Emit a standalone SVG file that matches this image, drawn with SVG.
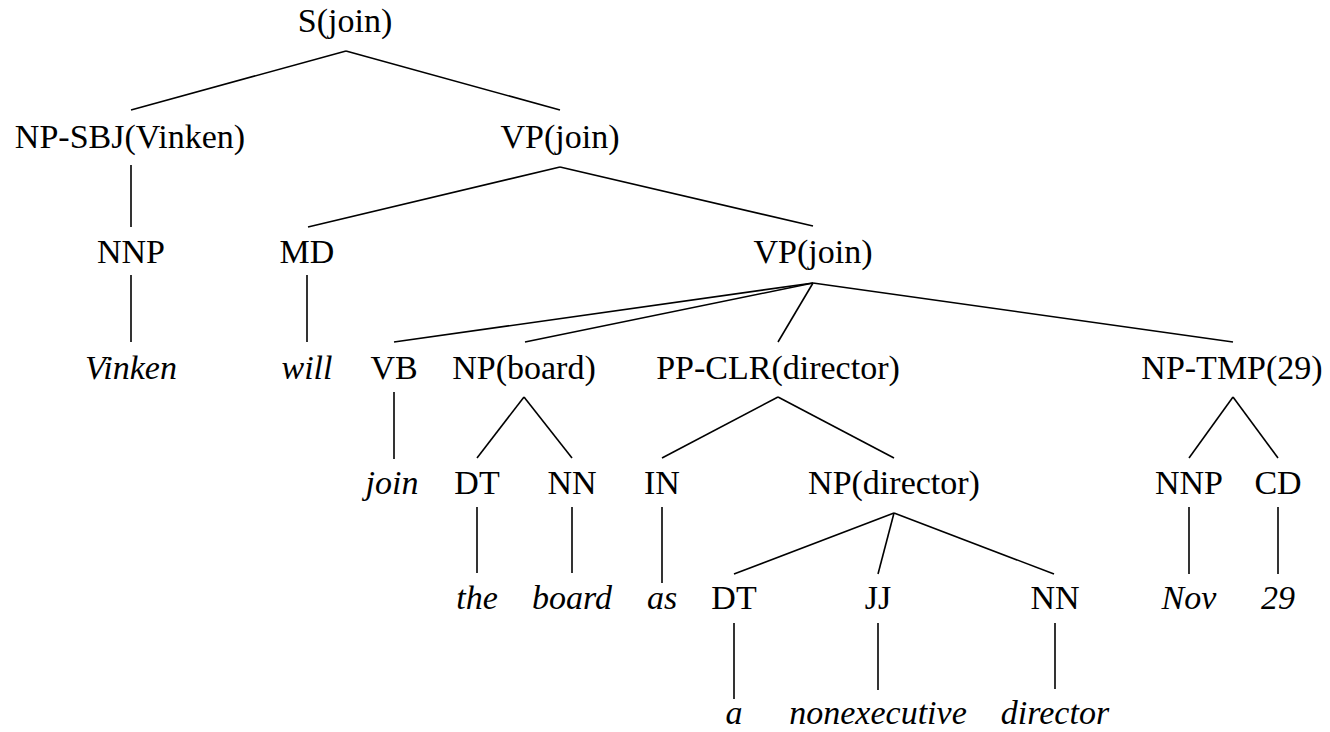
<svg xmlns="http://www.w3.org/2000/svg" width="1330" height="732" viewBox="0 0 1330 732">
<style>
  text { font-family: "Liberation Serif", "Times New Roman", serif; font-size: 34px; fill: #000; text-anchor: middle; }
  .w { font-style: italic; }
  .edges line { stroke: #000; stroke-width: 1.6; fill: none; }
</style>
<rect width="1330" height="732" fill="#fff"/>
<g class="edges" id="connectors">
  <line x1="346" y1="51" x2="131" y2="110"/>
  <line x1="346" y1="51" x2="560" y2="110"/>
  <line x1="131" y1="165" x2="131" y2="227"/>
  <line x1="560" y1="167" x2="308" y2="227"/>
  <line x1="560" y1="167" x2="813" y2="226"/>
  <line x1="131" y1="275" x2="131" y2="342"/>
  <line x1="307" y1="275" x2="307" y2="342"/>
  <line x1="813" y1="283" x2="394" y2="342"/>
  <line x1="813" y1="283" x2="525" y2="342"/>
  <line x1="813" y1="283" x2="778" y2="342"/>
  <line x1="813" y1="283" x2="1233" y2="342"/>
  <line x1="394" y1="392" x2="394" y2="459"/>
  <line x1="524" y1="397" x2="477" y2="458"/>
  <line x1="524" y1="397" x2="572" y2="458"/>
  <line x1="778" y1="397" x2="662" y2="458"/>
  <line x1="778" y1="397" x2="894" y2="458"/>
  <line x1="1233" y1="397" x2="1189" y2="458"/>
  <line x1="1233" y1="397" x2="1278" y2="458"/>
  <line x1="477" y1="507" x2="477" y2="573"/>
  <line x1="572" y1="507" x2="572" y2="573"/>
  <line x1="662" y1="507" x2="662" y2="583"/>
  <line x1="894" y1="513" x2="734" y2="574"/>
  <line x1="894" y1="513" x2="878" y2="574"/>
  <line x1="894" y1="513" x2="1054" y2="574"/>
  <line x1="1189" y1="507" x2="1189" y2="574"/>
  <line x1="1278" y1="507" x2="1278" y2="574"/>
  <line x1="734" y1="623" x2="734" y2="699"/>
  <line x1="878" y1="623" x2="878" y2="690"/>
  <line x1="1055" y1="623" x2="1055" y2="689"/>
</g>
<g id="n-S"><text x="345" y="32">S(join)</text></g>
<g id="n-NPSBJ"><text x="130" y="148">NP-SBJ(Vinken)</text></g>
<g id="n-VP1"><text x="560" y="148">VP(join)</text></g>
<g id="n-NNP1"><text x="131" y="263">NNP</text></g>
<g id="n-MD"><text x="307" y="263">MD</text></g>
<g id="n-VP2"><text x="813" y="263">VP(join)</text></g>
<g id="w-Vinken"><text class="w" x="131" y="379">Vinken</text></g>
<g id="w-will"><text class="w" x="307" y="379">will</text></g>
<g id="n-VB"><text x="394" y="379">VB</text></g>
<g id="n-NPboard"><text x="524" y="379">NP(board)</text></g>
<g id="n-PPCLR"><text x="778" y="379">PP-CLR(director)</text></g>
<g id="n-NPTMP"><text x="1232" y="379">NP-TMP(29)</text></g>
<g id="w-join"><text class="w" x="392" y="494">join</text></g>
<g id="n-DT1"><text x="477" y="494">DT</text></g>
<g id="n-NN1"><text x="572" y="494">NN</text></g>
<g id="n-IN"><text x="662" y="494">IN</text></g>
<g id="n-NPdir"><text x="894" y="494">NP(director)</text></g>
<g id="n-NNP2"><text x="1189" y="494">NNP</text></g>
<g id="n-CD"><text x="1278" y="494">CD</text></g>
<g id="w-the"><text class="w" x="477" y="609">the</text></g>
<g id="w-board"><text class="w" x="572" y="609">board</text></g>
<g id="w-as"><text class="w" x="662" y="609">as</text></g>
<g id="n-DT2"><text x="734" y="609">DT</text></g>
<g id="n-JJ"><text x="878" y="609">JJ</text></g>
<g id="n-NN2"><text x="1055" y="609">NN</text></g>
<g id="w-Nov"><text class="w" x="1189" y="609">Nov</text></g>
<g id="w-29"><text class="w" x="1278" y="609">29</text></g>
<g id="w-a"><text class="w" x="734" y="724">a</text></g>
<g id="w-nonexecutive"><text class="w" x="878" y="724">nonexecutive</text></g>
<g id="w-director"><text class="w" x="1055" y="724">director</text></g>
</svg>
